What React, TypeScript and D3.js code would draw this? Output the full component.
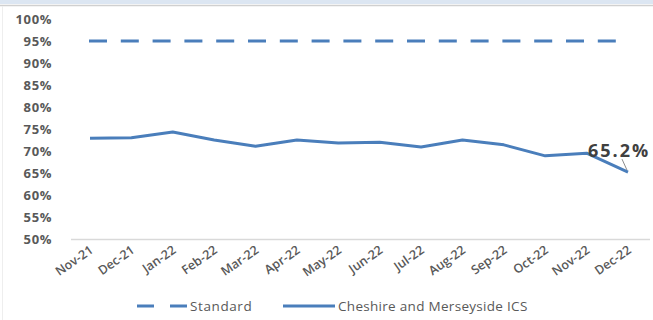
import React from "react";
import * as d3 from "d3";

const categories = ["Nov-21","Dec-21","Jan-22","Feb-22","Mar-22","Apr-22","May-22","Jun-22","Jul-22","Aug-22","Sep-22","Oct-22","Nov-22","Dec-22"];
const standard = [95,95,95,95,95,95,95,95,95,95,95,95,95,95];
const ics = [72.9,73.0,74.3,72.5,71.1,72.5,71.8,72.0,70.9,72.5,71.4,68.9,69.5,65.2];
const yTicks = [50,55,60,65,70,75,80,85,90,95,100];

const W = 653, H = 320;
const BLUE = "#4A7EBB";
const GRAY = "#595959";
const FONT = "'Open Sans', sans-serif";

export default function App() {
  const x = d3.scalePoint<string>().domain(categories).range([90, 628]);
  const y = d3.scaleLinear().domain([50, 100]).range([239, 19]);
  const line = d3.line<number>().x((_, i) => x(categories[i])!).y(d => y(d));
  const last = categories.length - 1;
  const lx = x(categories[last])!;
  const ly = y(ics[last]);
  return (
    <svg width={W} height={H} style={{ position: "absolute", left: 0, top: 0 }}>
      <rect x={0} y={0} width={W} height={H} fill="#fff" />
      <rect x={0} y={0} width={W} height={4} fill="#dce6f2" />
      <line x1={0} x2={W} y1={5.5} y2={5.5} stroke="#d0d0d0" strokeWidth={1.5} />
      <line x1={2.5} x2={2.5} y1={6} y2={H} stroke="#eeeeee" strokeWidth={1} />
      <line x1={71} x2={650} y1={239.5} y2={239.5} stroke="#d9d9d9" strokeWidth={1.5} />
      {yTicks.map(t => (
        <text key={t} x={52} y={y(t)} dy="0.35em" textAnchor="end" fontFamily={FONT} fontSize={13} letterSpacing={0.6} fontWeight="bold" fill={GRAY}>{t}%</text>
      ))}
      {categories.map(c => (
        <text key={c} transform={`translate(${x(c)! + 4},${252}) rotate(-35)`} textAnchor="end" fontFamily={FONT} fontSize={12.5} fontWeight={600} fill={GRAY}>{c}</text>
      ))}
      <path d={line(standard)!} fill="none" stroke={BLUE} strokeWidth={3} strokeDasharray="18 13.8" transform="translate(-1,0)" />
      <path d={line(ics)!} fill="none" stroke={BLUE} strokeWidth={3} strokeLinejoin="round" />
      <line x1={lx - 6} x2={lx - 1} y1={ly - 13} y2={ly - 2} stroke="#8c8c8c" strokeWidth={1} />
      <text x={588} y={157} fontFamily={FONT} fontSize={18} letterSpacing={2} fontWeight="bold" fill="#404040">{ics[last].toFixed(1)}%</text>
      <line x1={137} x2={187} y1={306} y2={306} stroke={BLUE} strokeWidth={3} strokeDasharray="17 16" />
      <text x={190} y={306} dy="0.35em" fontFamily={FONT} fontSize={13.5} letterSpacing={0.6} fill={GRAY}>Standard</text>
      <line x1={283} x2={335} y1={306} y2={306} stroke={BLUE} strokeWidth={3} />
      <text x={338} y={306} dy="0.35em" fontFamily={FONT} fontSize={13.5} letterSpacing={0.3} fill={GRAY}>Cheshire and Merseyside ICS</text>
    </svg>
  );
}
